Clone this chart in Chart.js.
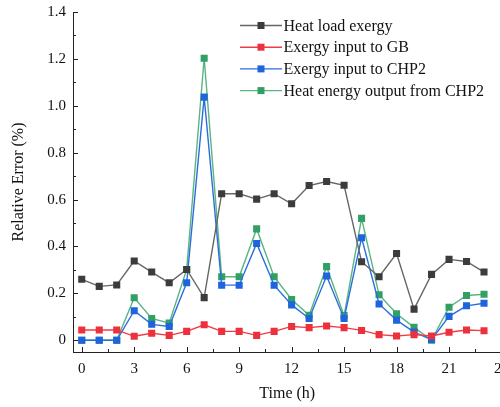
<!DOCTYPE html>
<html>
<head>
<meta charset="utf-8">
<script src="https://cdn.jsdelivr.net/npm/chart.js@4"></script>
<style>
  html, body { margin: 0; padding: 0; background: #fff; overflow: hidden; }
  #wrap { width: 517px; height: 407px; }
</style>
</head>
<body>
<div id="wrap"><canvas id="myChart" width="517" height="407"></canvas></div>
<script>
// hours on the x axis
const hours = [0, 1, 2, 3, 4, 5, 6, 7, 8, 9, 10, 11, 12, 13, 14, 15, 16, 17, 18, 19, 20, 21, 22, 23];

// relative error values (%)
const heatLoad = [0.26, 0.23, 0.236, 0.338, 0.291, 0.245, 0.302, 0.182, 0.625, 0.625, 0.602, 0.625,
  0.582, 0.66, 0.677, 0.661, 0.335, 0.271, 0.37, 0.133, 0.281, 0.345, 0.336, 0.291];
const gbInput = [0.044, 0.044, 0.044, 0.017, 0.03, 0.021, 0.038, 0.066, 0.038, 0.038, 0.021, 0.038,
  0.059, 0.054, 0.061, 0.054, 0.042, 0.024, 0.018, 0.024, 0.018, 0.034, 0.044, 0.041];
const chp2Input = [0, 0, 0, 0.126, 0.068, 0.059, 0.245, 1.037, 0.235, 0.235, 0.413, 0.235,
  0.151, 0.093, 0.274, 0.093, 0.437, 0.155, 0.086, 0.035, 0.003, 0.102, 0.147, 0.158];
const chp2Output = [0, 0, 0, 0.181, 0.093, 0.073, 0.302, 1.203, 0.271, 0.271, 0.475, 0.271,
  0.174, 0.107, 0.314, 0.105, 0.52, 0.194, 0.113, 0.055, 0, 0.141, 0.191, 0.196];

const seriesNames = ["Heat load exergy", "Exergy input to GB", "Exergy input to CHP2", "Heat energy output from CHP2"];

const serif = "'Liberation Serif', 'Times New Roman', serif";

function series(label, values, line, mark) {
  return {
    label: label,
    data: hours.map((h, i) => ({ x: h, y: values[i] })),
    borderColor: line,
    backgroundColor: mark,
    pointBackgroundColor: mark,
    pointBorderColor: mark,
    borderWidth: 1.4,
    pointStyle: "rect",
    pointRadius: 5,
    pointBorderWidth: 0,
    tension: 0,
  };
}

// inward tick marks on both axes
const innerTicks = {
  id: "innerTicks",
  afterDraw(chart) {
    const ctx = chart.ctx;
    const xs = chart.scales.x;
    const ys = chart.scales.y;
    const a = chart.chartArea;
    ctx.save();
    ctx.strokeStyle = "#222";
    ctx.lineWidth = 1;
    ctx.beginPath();
    for (let v = 0; v <= 24.01; v += 1.5) {
      const px = Math.round(xs.getPixelForValue(v)) + 0.5;
      const len = (Math.round(v * 10) % 30 === 0) ? 5 : 3;
      ctx.moveTo(px, a.bottom);
      ctx.lineTo(px, a.bottom - len);
    }
    for (let v = 0; v <= 1.401; v += 0.1) {
      const py = Math.round(ys.getPixelForValue(v)) + 0.5;
      const len = (Math.round(v * 10) % 2 === 0) ? 5 : 3;
      ctx.moveTo(a.left, py);
      ctx.lineTo(a.left + len, py);
    }
    ctx.stroke();
    ctx.restore();
  },
};

// legend drawn inside the plot, line + square marker
const innerLegend = {
  id: "innerLegend",
  afterDraw(chart) {
    const ctx = chart.ctx;
    ctx.save();
    ctx.font = "16px " + serif;
    ctx.textBaseline = "middle";
    chart.data.datasets.forEach((ds, i) => {
      const y = 25.5 + i * 21.7;
      ctx.strokeStyle = ds.borderColor;
      ctx.lineWidth = 1.4;
      ctx.beginPath();
      ctx.moveTo(240, y);
      ctx.lineTo(282, y);
      ctx.stroke();
      ctx.fillStyle = ds.pointBackgroundColor;
      ctx.fillRect(257.5, y - 3.5, 7, 7);
      ctx.fillStyle = "#111";
      ctx.fillText(ds.label, 283.5, y + 1);
    });
    ctx.restore();
  },
};

const ctx = document.getElementById("myChart");
new Chart(ctx, {
  type: "line",
  data: {
    datasets: [
      series(seriesNames[0], heatLoad, "#666666", "#3c3c3c"),
      series(seriesNames[1], gbInput, "#f03c46", "#eb323c"),
      series(seriesNames[2], chp2Input, "#2a6edc", "#1e64dc"),
      series(seriesNames[3], chp2Output, "#5ab482", "#32a064"),
    ],
  },
  options: {
    responsive: false,
    animation: false,
    layout: { padding: { top: 12, left: 0, bottom: 0, right: 0 } },
    plugins: {
      legend: { display: false },
      tooltip: { enabled: false },
    },
    scales: {
      x: {
        type: "linear",
        min: -0.5,
        max: 24,
        afterFit: (s) => { s.height = 55; },
        border: { display: true, color: "#222", width: 1 },
        grid: { display: false, drawTicks: false },
        ticks: {
          stepSize: 3,
          padding: 8,
          color: "#111",
          font: { family: serif, size: 15 },
          callback: (v) => (v >= 0 ? v : ""),
        },
        afterBuildTicks: (s) => { s.ticks = [0, 3, 6, 9, 12, 15, 18, 21, 24].map((v) => ({ value: v })); },
        title: {
          display: true,
          text: "Time (h)",
          color: "#111",
          font: { family: serif, size: 16 },
          padding: { top: 2 },
        },
      },
      y: {
        min: -0.05,
        max: 1.4,
        afterFit: (s) => { s.width = 73; s.paddingTop = 0; s.paddingBottom = 0; },
        border: { display: true, color: "#222", width: 1 },
        grid: { display: false, drawTicks: false },
        afterBuildTicks: (s) => { s.ticks = [0, 0.2, 0.4, 0.6, 0.8, 1.0, 1.2, 1.4].map((v) => ({ value: v })); },
        ticks: {
          padding: 7,
          color: "#111",
          font: { family: serif, size: 15 },
          callback: (v) => (v === 0 ? "0" : v.toFixed(1)),
        },
        title: {
          display: true,
          text: "Relative Error (%)",
          color: "#111",
          font: { family: serif, size: 16 },
          padding: { top: 9, bottom: 4 },
        },
      },
    },
  },
  plugins: [innerTicks, innerLegend],
});
</script>
</body>
</html>
